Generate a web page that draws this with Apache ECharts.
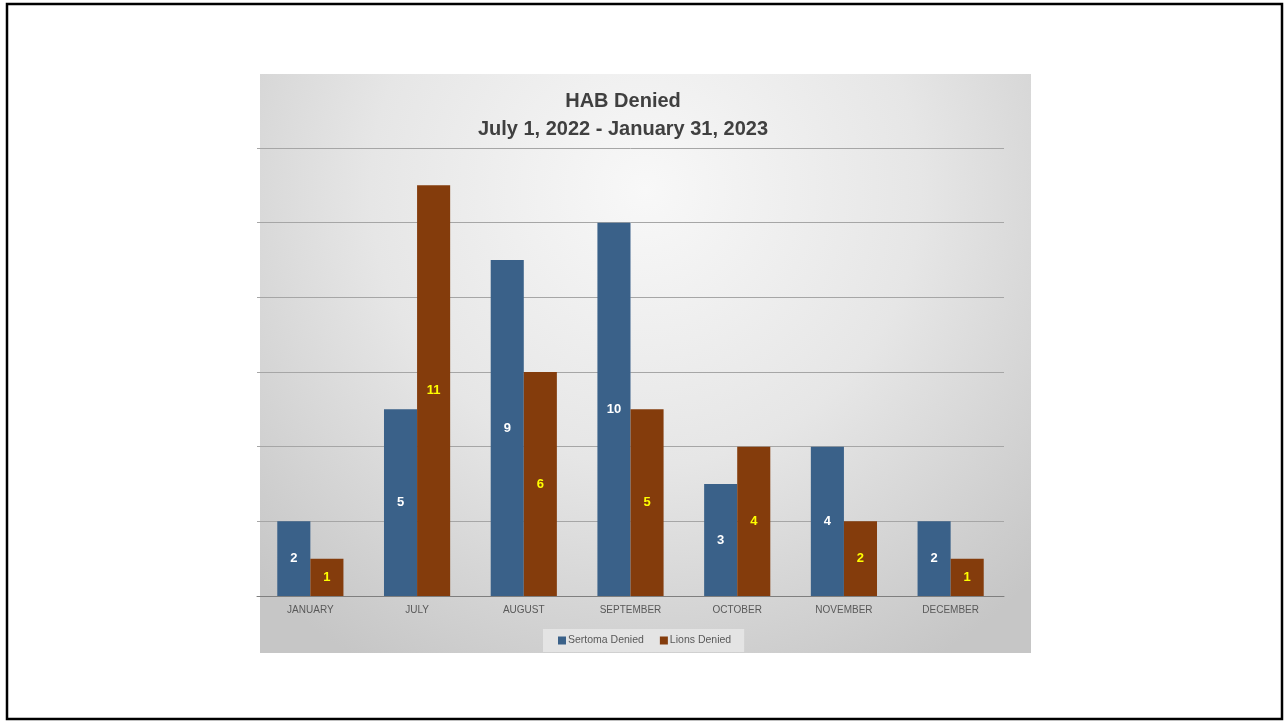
<!DOCTYPE html>
<html>
<head>
<meta charset="utf-8">
<script src="https://cdn.jsdelivr.net/npm/echarts@6/dist/echarts.min.js"></script>
<style>
  html, body { margin: 0; padding: 0; background: #ffffff; }
  #chart { width: 1284px; height: 721px; }
</style>
</head>
<body>
<div id="chart"></div>
<script>
// Monthly denials, July 1, 2022 - January 31, 2023
const months = ['JANUARY', 'JULY', 'AUGUST', 'SEPTEMBER', 'OCTOBER', 'NOVEMBER', 'DECEMBER'];
const sertomaDenied = [2, 5, 9, 10, 3, 4, 2];
const lionsDenied = [1, 11, 6, 5, 4, 2, 1];
const seriesNames = ['Sertoma Denied', 'Lions Denied'];
const titleLines = ['HAB Denied', 'July 1, 2022 - January 31, 2023'];

const chart = echarts.init(document.getElementById('chart'), null, { renderer: 'canvas' });
const fontFamily = '"Liberation Sans", Arial, sans-serif';

chart.setOption({
  animation: false,
  backgroundColor: '#ffffff',
  graphic: [
    // slide frame
    {
      type: 'rect', z: -10, silent: true,
      shape: { x: 7, y: 4, width: 1275, height: 715 },
      style: { fill: '#ffffff', stroke: '#000000', lineWidth: 2.5 }
    },
    // chart panel with soft radial shading
    {
      type: 'rect', z: -9, silent: true,
      shape: { x: 260, y: 74, width: 771, height: 579 },
      style: {
        fill: new echarts.graphic.RadialGradient(0.5, 0.2, 0.95, [
          { offset: 0, color: '#f8f8f8' },
          { offset: 0.5, color: '#e6e6e6' },
          { offset: 1, color: '#c6c6c6' }
        ])
      }
    }
  ],
  title: {
    text: titleLines.join('\n'),
    left: 618, top: 82, textAlign: 'center',
    textStyle: { fontFamily, fontSize: 20, fontWeight: 'bold', color: '#404040', lineHeight: 28 }
  },
  legend: {
    data: seriesNames,
    left: 543, top: 629,
    width: 204,
    padding: [6, 13, 6, 15],
    backgroundColor: 'rgba(232,232,232,0.8)',
    itemWidth: 8, itemHeight: 8, itemGap: 16,
    icon: 'rect',
    textStyle: { fontFamily, fontSize: 10.5, color: '#595959', padding: [0, 0, 0, -3] }
  },
  grid: { left: 257, right: 280, top: 148, bottom: 125, containLabel: false },
  xAxis: {
    type: 'category',
    data: months,
    axisLine: { lineStyle: { color: '#7f7f7f', width: 1 } },
    axisTick: { show: false },
    axisLabel: { fontFamily, fontSize: 10, color: '#595959', margin: 9 }
  },
  yAxis: {
    type: 'value',
    min: 0, max: 12, interval: 2,
    axisLine: { show: false },
    axisTick: { show: false },
    axisLabel: { show: false },
    splitLine: { lineStyle: { color: '#a6a6a6', width: 1 } }
  },
  series: [
    {
      name: seriesNames[0], type: 'bar', data: sertomaDenied,
      barCategoryGap: '38%', barGap: '0%',
      itemStyle: { color: '#3a6189' },
      label: { show: true, position: 'inside', color: '#ffffff', fontFamily, fontSize: 13, fontWeight: 'bold' }
    },
    {
      name: seriesNames[1], type: 'bar', data: lionsDenied,
      barCategoryGap: '38%', barGap: '0%',
      itemStyle: { color: '#843c0c' },
      label: { show: true, position: 'inside', color: '#ffff00', fontFamily, fontSize: 13, fontWeight: 'bold' }
    }
  ]
});
</script>
</body>
</html>
